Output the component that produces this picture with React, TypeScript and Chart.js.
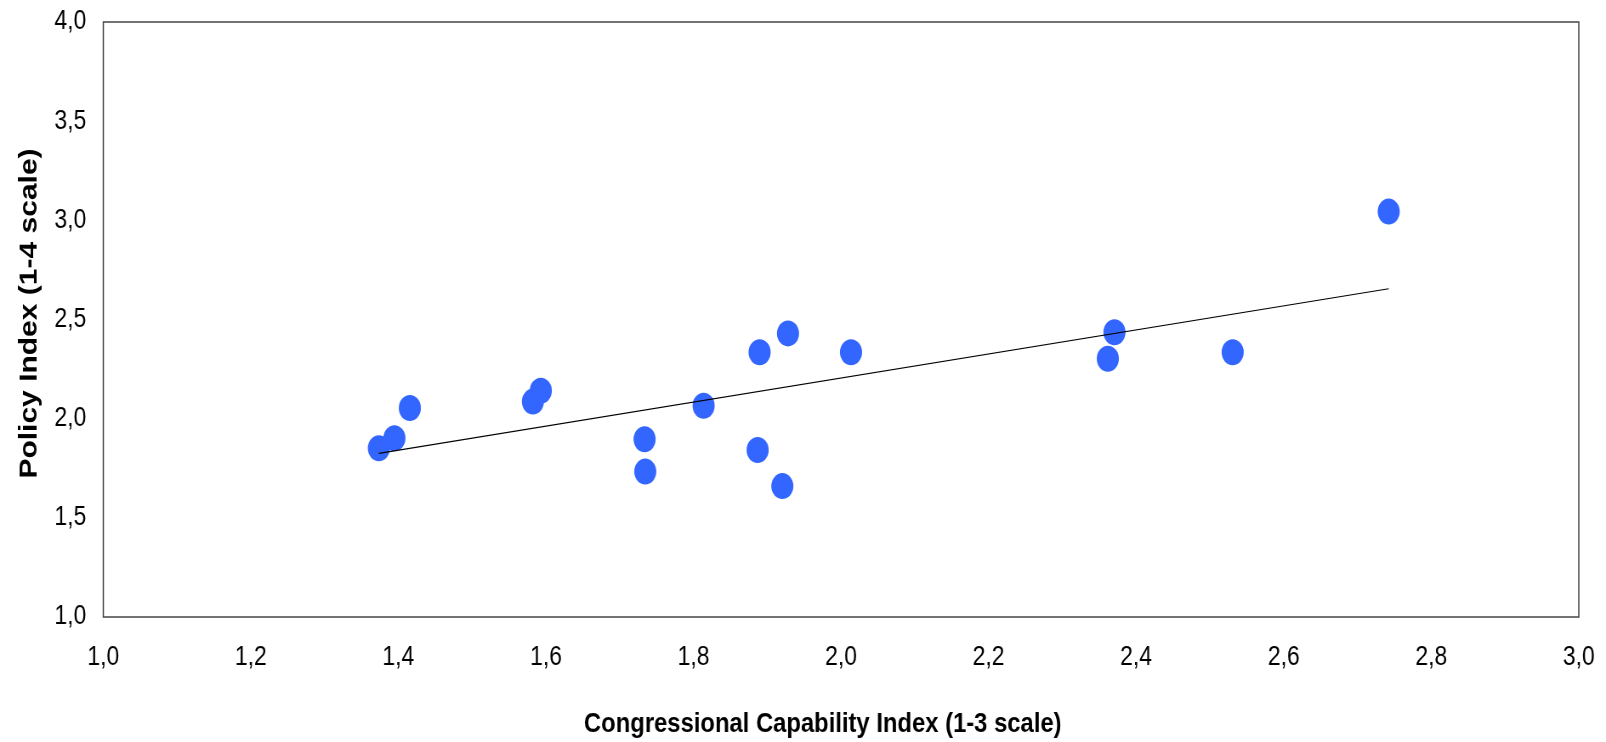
import React, { useEffect, useRef } from "react";
import { Chart, registerables } from "chart.js";

Chart.register(...registerables);

// Data
const capabilityIndex = [
  1.3735, 1.3946, 1.4155, 1.5823, 1.593, 1.7337, 1.7346, 1.8137, 1.8869,
  1.8896, 1.9204, 1.9281, 2.0135, 2.3616, 2.3706, 2.5308, 2.7423,
];
const policyIndex = [
  1.851, 1.901, 2.054, 2.086, 2.141, 1.896, 1.733, 2.065, 1.842,
  2.335, 1.66, 2.43, 2.335, 2.302, 2.436, 2.335, 3.044,
];
const trendX = [1.3735, 2.7423];
const trendY = [1.825, 2.655];

const xTickLabels = ["1,0", "1,2", "1,4", "1,6", "1,8", "2,0", "2,2", "2,4", "2,6", "2,8", "3,0"];
const yTickLabels = ["1,0", "1,5", "2,0", "2,5", "3,0", "3,5", "4,0"];

const xTitle = "Congressional Capability Index (1-3 scale)";
const yTitle = "Policy Index (1-4 scale)";

const H_SQUASH = 0.85; // horizontal compression of the reference rendering
const DISPLAY_W = 1606;
const DISPLAY_H = 742;
const INTERNAL_W = Math.round(DISPLAY_W / H_SQUASH);

export default function App() {
  const ref = useRef<HTMLCanvasElement | null>(null);

  useEffect(() => {
    document.body.style.margin = "0";
    const canvas = ref.current;
    if (!canvas) return;

    const framePlugin = {
      id: "frameAndTitles",
      afterDraw(chart: any) {
        const { ctx, chartArea } = chart;
        const { left, right, top, bottom } = chartArea;
        ctx.save();
        ctx.strokeStyle = "#444444";
        ctx.lineWidth = 1.5;
        ctx.strokeRect(left, top, right - left, bottom - top);

        ctx.fillStyle = "#000000";
        ctx.textAlign = "center";
        ctx.textBaseline = "middle";
        ctx.font = 'bold 28px "Liberation Sans", Arial, sans-serif';
        ctx.fillText(xTitle, left + 0.4876 * (right - left), 724);

        ctx.translate(35, (top + bottom) / 2 - 6);
        ctx.rotate(-Math.PI / 2);
        ctx.font = 'bold 30px "Liberation Sans", Arial, sans-serif';
        ctx.fillText(yTitle, 0, 0);
        ctx.restore();
      },
    };

    const tickFont = { family: '"Liberation Sans", Arial, sans-serif', size: 27 };

    const chart = new Chart(canvas, {
      type: "scatter",
      data: {
        datasets: [
          {
            type: "line",
            label: "Trend",
            data: trendX.map((x, i) => ({ x, y: trendY[i] })),
            borderColor: "#000000",
            borderWidth: 1.2,
            pointRadius: 0,
            fill: false,
            order: 0,
          } as any,
          {
            type: "scatter",
            label: "Countries",
            data: capabilityIndex.map((x, i) => ({ x, y: policyIndex[i] })),
            backgroundColor: "#3366FF",
            pointBackgroundColor: "#3366FF",
            pointBorderWidth: 0,
            pointRadius: 13,
            pointHoverRadius: 13,
            order: 1,
          },
        ],
      },
      options: {
        responsive: false,
        animation: false,
        devicePixelRatio: 1,
        layout: { padding: { left: 0, right: 32, top: 22, bottom: 0 } },
        plugins: {
          legend: { display: false },
          tooltip: { enabled: false },
        },
        scales: {
          x: {
            type: "linear",
            min: 1,
            max: 3,
            ticks: {
              stepSize: 0.2,
              autoSkip: false,
              maxRotation: 0,
              color: "#000000",
              font: tickFont,
              padding: 0,
              callback: (_v: any, i: number) => xTickLabels[i],
            },
            grid: { display: false, drawTicks: true, tickLength: 24 },
            border: { display: false },
            afterFit: (s: any) => {
              s.height = 125;
            },
          },
          y: {
            type: "linear",
            min: 1,
            max: 4,
            ticks: {
              stepSize: 0.5,
              autoSkip: false,
              color: "#000000",
              font: tickFont,
              padding: 0,
              callback: (_v: any, i: number) => yTickLabels[i],
            },
            grid: { display: false, drawTicks: true, tickLength: 20 },
            border: { display: false },
            afterFit: (s: any) => {
              s.width = 121.5;
            },
          },
        },
      },
      plugins: [framePlugin],
    });

    return () => chart.destroy();
  }, []);

  return (
    <canvas
      ref={ref}
      width={INTERNAL_W}
      height={DISPLAY_H}
      style={{ width: DISPLAY_W + "px", height: DISPLAY_H + "px", display: "block" }}
    />
  );
}
